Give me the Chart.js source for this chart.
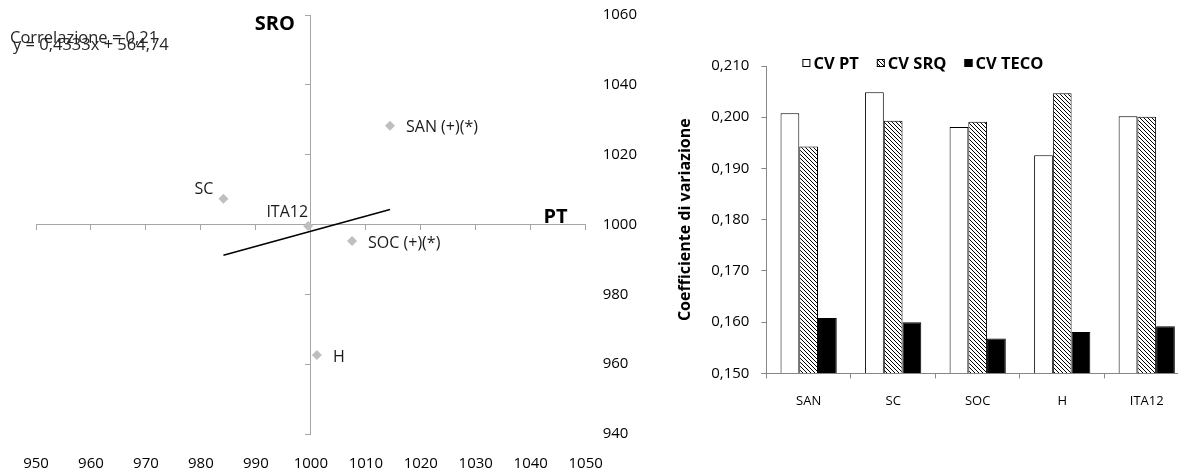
<!DOCTYPE html>
<html>
<head>
<meta charset="utf-8">
<script src="https://cdn.jsdelivr.net/npm/chart.js@4.4.0/dist/chart.umd.min.js"></script>
<style>
  html, body { margin: 0; padding: 0; background: #fff; overflow: hidden; }
  #left { position: absolute; left: 0; top: 0; width: 650px; height: 470px; }
  #right { position: absolute; left: 650px; top: 0; width: 560px; height: 470px; }
</style>
</head>
<body>
<div id="left"><canvas id="scatter"></canvas></div>
<div id="right"><canvas id="bars"></canvas></div>
<script>
// left chart: PT (x) vs SRO (y)
const pointNames = ["SAN (+)(*)", "SC", "ITA12", "SOC (+)(*)", "H"];
const ptValues = [1014.4, 984.1, 999.5, 1007.5, 1001.1];
const sroValues = [1028.3, 1007.4, 999.6, 995.3, 962.6];
// trend line ends
const trendX = [984.1, 1014.4];
const trendY = [991.2, 1004.3];

// right chart: coefficients of variation
const categories = ["SAN", "SC", "SOC", "H", "ITA12"];
const cvPT = [0.2008, 0.2049, 0.1981, 0.1926, 0.2002];
const cvSRQ = [0.1943, 0.1993, 0.1991, 0.2047, 0.2001];
const cvTECO = [0.1608, 0.1600, 0.1568, 0.1581, 0.1592];

Chart.defaults.font.family = "'Open Sans', sans-serif";
Chart.defaults.color = "#000";

const axisGray = "#a6a6a6";
const clear = "rgba(0,0,0,0)";

// where each point label sits: [dx, dy, align]
const labelPlace = {
  "SAN (+)(*)": [16, 2, "left"],
  "SC": [-10, -9, "right"],
  "ITA12": [0, -13, "right"],
  "SOC (+)(*)": [16, 3, "left"],
  "H": [16, 2, "left"]
};

const scatterText = {
  id: "scatterText",
  afterDatasetsDraw(chart) {
    const ctx = chart.ctx;
    const area = chart.chartArea;
    const meta = chart.getDatasetMeta(0);
    ctx.save();
    ctx.fillStyle = "#1a1a1a";
    ctx.textBaseline = "middle";
    ctx.font = "16px 'Open Sans'";
    meta.data.forEach((pt, i) => {
      const p = labelPlace[pointNames[i]];
      ctx.textAlign = p[2];
      ctx.fillText(pointNames[i], pt.x + p[0], pt.y + p[1]);
    });

    // axis names
    const cx = chart.scales.x.getPixelForValue(1000);
    const cy = chart.scales.y.getPixelForValue(1000);
    ctx.fillStyle = "#000";
    ctx.font = "bold 20px 'Open Sans'";
    ctx.textBaseline = "alphabetic";
    ctx.textAlign = "right";
    ctx.fillText("SRO", cx - 16, area.top + 15);
    ctx.fillText("PT", area.right - 18, cy - 2);

    // correlation note
    ctx.fillStyle = "#262626";
    ctx.font = "16.5px 'Open Sans'";
    ctx.textAlign = "left";
    ctx.fillText("Correlazione = 0,21", 10, 43);
    ctx.fillText("y = 0,4333x + 564,74", 13, 50);
    ctx.restore();
  }
};

new Chart(document.getElementById("scatter"), {
  type: "scatter",
  data: {
    datasets: [
      {
        label: "Regioni",
        data: ptValues.map((x, i) => ({ x: x, y: sroValues[i] })),
        pointStyle: "rectRot",
        pointRadius: 5,
        backgroundColor: "#bfbfbf",
        borderColor: "#bfbfbf",
        borderWidth: 0
      },
      {
        type: "line",
        label: "Lineare",
        data: trendX.map((x, i) => ({ x: x, y: trendY[i] })),
        borderColor: "#000",
        borderWidth: 1.5,
        pointRadius: 0,
        fill: false
      }
    ]
  },
  options: {
    responsive: true,
    maintainAspectRatio: false,
    animation: false,
    layout: { padding: { left: 36, top: 15, right: 13, bottom: -3 } },
    plugins: { legend: { display: false }, tooltip: { enabled: false } },
    scales: {
      // outer axes only carry the labels; the gap comes from invisible tick marks
      x: {
        type: "linear", position: "bottom", min: 950, max: 1050,
        ticks: { stepSize: 10, padding: 0, font: { size: 15 }, callback: v => String(v) },
        grid: { drawOnChartArea: false, tickLength: 21, color: clear },
        border: { display: false }
      },
      y: {
        type: "linear", position: "right", min: 940, max: 1060,
        ticks: { stepSize: 20, padding: 0, font: { size: 15 }, callback: v => String(v) },
        grid: { drawOnChartArea: false, tickLength: 17, color: clear },
        border: { display: false }
      },
      xc: {
        axis: "x", type: "linear", position: { y: 1000 }, min: 950, max: 1050,
        ticks: { stepSize: 10, display: false },
        grid: { drawOnChartArea: false, tickLength: 5, color: axisGray },
        border: { color: axisGray }
      },
      yc: {
        axis: "y", type: "linear", position: { x: 1000 }, min: 940, max: 1060,
        ticks: { stepSize: 20, display: false },
        grid: { drawOnChartArea: false, tickLength: 5, color: axisGray },
        border: { color: axisGray }
      }
    }
  },
  plugins: [scatterText]
});

function hatch() {
  const c = document.createElement("canvas");
  c.width = 4; c.height = 4;
  const g = c.getContext("2d");
  g.fillStyle = "#fff";
  g.fillRect(0, 0, 4, 4);
  g.strokeStyle = "#000";
  g.lineWidth = 1;
  g.beginPath();
  g.moveTo(0, 0); g.lineTo(4, 4);
  g.moveTo(-1, 3); g.lineTo(1, 5);
  g.moveTo(3, -1); g.lineTo(5, 1);
  g.stroke();
  return g.createPattern(c, "repeat");
}

const barLegend = {
  id: "barLegend",
  afterDraw(chart) {
    const ctx = chart.ctx;
    const area = chart.chartArea;
    ctx.save();
    ctx.font = "bold 16.5px 'Open Sans'";
    ctx.textBaseline = "middle";
    ctx.textAlign = "left";
    let x = area.left + 36;
    const y = area.top - 3;
    chart.data.datasets.forEach(ds => {
      ctx.fillStyle = ds.backgroundColor;
      ctx.fillRect(x, y - 4, 8, 8);
      ctx.strokeStyle = "#000";
      ctx.lineWidth = 1;
      ctx.strokeRect(x + 0.5, y - 3.5, 7, 7);
      ctx.fillStyle = "#000";
      ctx.fillText(ds.label, x + 11, y + 1);
      x += 11 + ctx.measureText(ds.label).width + 18;
    });
    ctx.restore();
  }
};

const barGray = "#868686";

new Chart(document.getElementById("bars"), {
  type: "bar",
  data: {
    labels: categories,
    datasets: [
      { label: "CV PT", data: cvPT, backgroundColor: "#fff", borderColor: "#000", borderWidth: 1 },
      { label: "CV SRQ", data: cvSRQ, backgroundColor: hatch(), borderColor: "#000", borderWidth: 1 },
      { label: "CV TECO", data: cvTECO, backgroundColor: "#000", borderColor: "#000", borderWidth: 1 }
    ]
  },
  options: {
    responsive: true,
    maintainAspectRatio: false,
    animation: false,
    layout: { padding: { left: 10, top: 66, right: 21, bottom: 46 } },
    datasets: { bar: { categoryPercentage: 0.665, barPercentage: 1, base: 0.15 } },
    plugins: { legend: { display: false }, tooltip: { enabled: false } },
    scales: {
      x: {
        grid: { drawOnChartArea: false, tickLength: 5, color: barGray, offset: true },
        border: { color: barGray },
        ticks: { padding: 15, font: { size: 13 } }
      },
      y: {
        min: 0.15, max: 0.21,
        ticks: { stepSize: 0.01, padding: 12, font: { size: 15 }, callback: v => v.toFixed(3).replace(".", ",") },
        grid: { drawOnChartArea: false, tickLength: 5, color: barGray },
        border: { color: barGray },
        title: {
          display: true, text: "Coefficiente di variazione",
          font: { size: 16, weight: "bold" },
          padding: { top: 16, bottom: 4 }
        }
      }
    }
  },
  plugins: [barLegend]
});
</script>
</body>
</html>
